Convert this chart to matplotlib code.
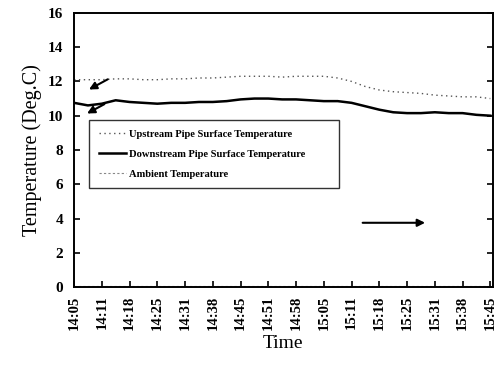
import numpy as np
import matplotlib.pyplot as plt

plt.rcParams['font.family'] = ['Liberation Serif', 'DejaVu Serif']

tick_labels = ['14:05', '14:11', '14:18', '14:25', '14:31', '14:38', '14:45', '14:51',
               '14:58', '15:05', '15:11', '15:18', '15:25', '15:31', '15:38', '15:45']

# readings every half tick interval
t = np.arange(0, 15.01, 0.5)
upstream = [12.1, 12.1, 12.1, 12.15, 12.15, 12.1, 12.1, 12.15, 12.15, 12.2, 12.2,
            12.25, 12.3, 12.3, 12.3, 12.25, 12.3, 12.3, 12.3, 12.2, 12.0, 11.7,
            11.5, 11.4, 11.35, 11.3, 11.2, 11.15, 11.1, 11.1, 11.0]
downstream = [10.75, 10.6, 10.7, 10.9, 10.8, 10.75, 10.7, 10.75, 10.75, 10.8, 10.8,
              10.85, 10.95, 11.0, 11.0, 10.95, 10.95, 10.9, 10.85, 10.85, 10.75, 10.55,
              10.35, 10.2, 10.15, 10.15, 10.2, 10.15, 10.15, 10.05, 10.0]
ambient = [0.05] * len(t)

fig = plt.figure(figsize=(4.97, 3.68), dpi=100)
ax = fig.add_axes([0.149, 0.22, 0.842, 0.745])

ax.plot(t, upstream, color='#555555', ls=(0, (1, 2.5)), lw=1.0,
        label='Upstream Pipe Surface Temperature')
ax.plot(t, downstream, color='black', lw=1.8,
        label='Downstream Pipe Surface Temperature')
ax.plot(t, ambient, color='#888888', ls=(0, (2, 2)), lw=0.8,
        label='Ambient Temperature')

arrow = dict(arrowstyle='-|>', color='black', lw=1.5, mutation_scale=11)
ax.annotate('', xy=(0.45, 11.45), xytext=(1.3, 12.2), arrowprops=arrow)
ax.annotate('', xy=(0.38, 10.05), xytext=(1.18, 10.75), arrowprops=arrow)
ax.annotate('', xy=(12.75, 3.75), xytext=(10.3, 3.75), arrowprops=arrow)

ax.set_xlim(0, 15.08)
ax.set_ylim(0, 16)
ax.set_yticks(range(0, 17, 2))
ax.set_xticks(range(len(tick_labels)))
ax.set_xticklabels(tick_labels, rotation=90, fontweight='bold', fontsize=10.5)
for lab in ax.get_yticklabels():
    lab.set_fontweight('bold')
    lab.set_fontsize(11)
ax.tick_params(direction='in', length=4, width=1.2, right=True, pad=8)
ax.tick_params(axis='x', pad=6)
for s in ax.spines.values():
    s.set_linewidth(1.4)

ax.set_xlabel('Time', fontsize=14, labelpad=4)
ax.set_ylabel('Temperature (Deg.C)', fontsize=14.5, labelpad=4)

leg = ax.legend(loc='lower left', bbox_to_anchor=(0.036, 0.361, 0.597, 0.237), mode='expand',
                borderaxespad=0, prop={'weight': 'bold', 'size': 7.6},
                frameon=True, fancybox=False, edgecolor='black', handlelength=2.6,
                handletextpad=0.3, borderpad=0.9, labelspacing=1.0)
leg.get_frame().set_linewidth(1.0)

fig.savefig('out.png', dpi=100)
